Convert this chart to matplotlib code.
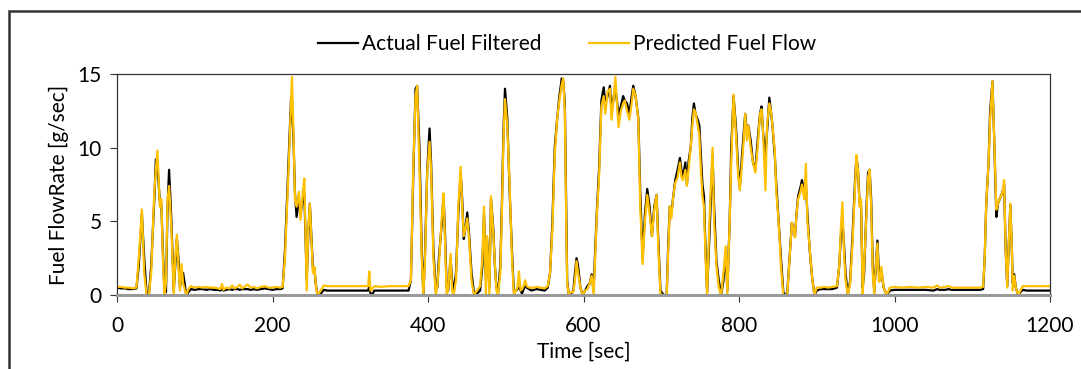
import matplotlib.pyplot as plt
from matplotlib.patches import Rectangle

# time [sec], actual fuel (filtered), predicted fuel flow [g/sec]
time = [0, 5, 10, 15, 20, 25, 28, 32, 35, 38, 41, 44, 48, 50, 52, 55, 57, 59, 61, 63,
        65, 67, 70, 73, 75, 77, 79, 81, 83, 85, 87, 89, 92, 95, 100, 105, 110, 115, 120, 125,
        130, 133, 135, 137, 140, 145, 148, 151, 155, 158, 161, 165, 168, 172, 176, 180, 185, 190, 195, 200,
        205, 210, 213, 216, 219, 221, 224, 225, 227, 229, 231, 234, 236, 239, 241, 244, 246, 248, 250, 252,
        254, 256, 258, 262, 266, 270, 280, 290, 300, 310, 320, 323, 324.5, 326, 328, 331, 340, 350, 360, 370,
        375, 378, 381, 384, 386, 389, 392, 394, 396, 399, 402, 404, 407, 410, 412, 414, 416, 418, 420, 422,
        424, 426, 429, 431, 433, 436, 439, 442, 444, 446, 448, 450.5, 453, 456, 459, 463, 467, 470, 472, 474.5,
        476, 479, 481, 484, 486, 488, 490, 493, 495, 497, 499, 502, 505, 508, 510.5, 513, 515, 517, 519, 521,
        523, 525, 527, 530, 533, 536, 540, 545, 550, 554, 557, 560, 563, 566, 569, 572, 574, 576, 578, 579,
        581, 584, 587, 589, 591, 593, 596, 599, 602, 605, 608, 610.5, 613, 615, 617, 620, 623, 626, 628, 631,
        634, 636, 639, 641, 643, 645, 648, 651, 653, 656, 659, 662, 664, 667, 670.5, 673, 676, 679, 682, 685,
        688, 691, 694, 696, 699, 703, 707, 709, 711, 713, 715, 718, 721, 724, 726, 728, 731, 733, 735, 738,
        740, 742, 744, 747, 749, 751, 753, 755, 757, 759, 762, 766, 768, 771, 774, 777, 780, 783, 785, 788,
        790, 793, 796, 799, 801, 804, 806, 808, 810, 812, 815, 818, 821, 824, 827, 829, 831, 834, 836, 839,
        841, 843, 846, 848, 851, 854, 857, 860, 862, 865, 868, 870, 872, 874, 876, 879, 881, 884, 886, 888,
        891, 894, 897, 900, 905, 910, 915, 920, 926, 929, 931, 933, 935, 937, 940, 943, 946, 949, 951, 953,
        955, 957, 959, 961, 964, 966, 968, 970, 972, 974, 976, 978, 980, 981.5, 983, 986, 990, 994, 1000, 1010,
        1020, 1030, 1040, 1050, 1055, 1058, 1065, 1070, 1073, 1080, 1090, 1100, 1110, 1114, 1116, 1118, 1121, 1123, 1126, 1128,
        1131, 1133, 1136, 1139, 1141, 1143, 1145, 1147, 1149, 1151, 1152, 1154, 1156, 1159, 1162, 1165, 1170, 1180, 1190, 1200]

actual = [0.5, 0.45, 0.45, 0.4, 0.4, 0.45, 2.0, 5.5, 2.5, 0.2, 0.0, 2.0, 6.5, 9.2, 8.8, 6.4, 6.2, 3.0, 0.3, 0.2,
          6.0, 8.5, 5.0, 0.3, 2.0, 3.8, 2.5, 0.5, 1.5, 1.5, 0.8, 0.0, 0.2, 0.4, 0.35, 0.4, 0.4, 0.35, 0.4, 0.35,
          0.35, 0.3, 0.45, 0.3, 0.35, 0.4, 0.35, 0.4, 0.4, 0.35, 0.4, 0.4, 0.4, 0.35, 0.4, 0.35, 0.4, 0.45, 0.4, 0.35,
          0.4, 0.4, 0.45, 3.0, 7.0, 9.5, 13.5, 13.0, 10.5, 6.8, 5.3, 6.5, 5.5, 6.5, 6.8, 1.0, 4.0, 6.2, 4.0, 1.8,
          1.7, 0.6, 0.0, 0.1, 0.35, 0.3, 0.3, 0.3, 0.3, 0.3, 0.3, 0.3, 0.6, 0.1, 0.0, 0.3, 0.3, 0.3, 0.3, 0.3,
          0.3, 1.0, 8.0, 14.0, 14.2, 10.0, 3.0, 0.0, 2.5, 8.5, 11.3, 9.0, 3.0, 0.3, 0.5, 2.5, 3.8, 5.0, 6.8, 4.0,
          0.5, 0.3, 2.5, 1.0, 0.2, 1.5, 5.5, 8.3, 6.5, 3.8, 4.5, 5.6, 4.0, 1.5, 0.2, 0.1, 0.3, 2.0, 5.5, 1.0,
          3.8, 0.5, 6.5, 4.5, 2.0, 0.5, 0.1, 2.0, 6.0, 11.0, 14.0, 12.0, 7.0, 3.0, 0.2, 0.3, 0.4, 0.5, 0.3, 0.1,
          0.4, 0.6, 0.5, 0.4, 0.3, 0.35, 0.4, 0.35, 0.3, 0.5, 1.5, 5.0, 10.0, 11.9, 13.5, 14.7, 14.5, 13.0, 5.0, 1.0,
          0.0, 0.1, 0.3, 1.5, 2.5, 2.0, 0.5, 0.0, 0.3, 0.6, 0.8, 1.4, 0.3, 3.0, 5.5, 8.5, 13.2, 14.1, 13.0, 13.5,
          14.2, 12.5, 13.5, 14.0, 13.2, 12.2, 12.8, 13.5, 13.2, 13.0, 12.3, 13.5, 14.2, 13.5, 12.0, 7.0, 2.5, 5.5, 7.2, 6.0,
          4.0, 6.0, 6.8, 4.0, 0.3, 0.0, 0.0, 3.5, 6.0, 5.5, 6.5, 7.8, 8.5, 9.3, 8.5, 8.0, 9.0, 7.5, 9.0, 10.1,
          12.0, 13.0, 12.3, 11.9, 11.5, 9.5, 7.5, 6.7, 3.0, 0.2, 4.0, 9.5, 6.0, 2.3, 1.0, 0.0, 1.0, 3.0, 0.3, 5.0,
          10.0, 13.5, 11.5, 8.5, 7.3, 9.5, 11.0, 12.3, 11.0, 11.5, 10.5, 9.0, 8.5, 10.5, 12.3, 12.8, 11.0, 9.5, 11.0, 13.4,
          12.5, 11.5, 9.5, 7.5, 5.0, 2.5, 0.2, 0.0, 0.1, 2.5, 4.9, 4.5, 4.0, 5.5, 6.7, 7.3, 7.8, 7.0, 7.5, 5.5,
          3.0, 1.2, 0.0, 0.3, 0.4, 0.4, 0.4, 0.4, 0.5, 2.0, 4.0, 5.0, 3.5, 1.5, 0.0, 1.0, 4.0, 7.5, 9.4, 8.5,
          6.3, 6.0, 0.5, 1.5, 6.0, 8.3, 8.5, 6.5, 2.0, 0.2, 2.0, 3.7, 1.5, 1.0, 1.7, 0.5, 0.0, 0.3, 0.35, 0.35,
          0.35, 0.35, 0.35, 0.3, 0.4, 0.35, 0.35, 0.4, 0.35, 0.35, 0.35, 0.35, 0.35, 0.4, 2.5, 6.2, 9.0, 12.5, 14.5, 11.0,
          5.3, 6.2, 6.6, 7.0, 7.5, 3.0, 0.6, 3.5, 6.1, 3.0, 0.8, 1.4, 0.5, 0.0, 0.2, 0.35, 0.3, 0.3, 0.3, 0.3]

predicted = [0.55, 0.55, 0.5, 0.5, 0.45, 0.5, 2.5, 5.8, 1.5, 0.0, 0.0, 1.5, 7.0, 8.5, 9.8, 6.0, 6.5, 2.5, 0.0, 0.8,
             6.5, 7.4, 4.5, 0.0, 2.5, 4.1, 2.0, 0.3, 2.1, 0.8, 0.4, 0.0, 0.4, 0.6, 0.5, 0.55, 0.5, 0.55, 0.5, 0.5,
             0.45, 0.4, 0.75, 0.35, 0.5, 0.45, 0.65, 0.45, 0.55, 0.7, 0.45, 0.6, 0.7, 0.5, 0.55, 0.45, 0.55, 0.6, 0.5, 0.5,
             0.55, 0.5, 0.55, 2.5, 6.5, 9.0, 13.5, 14.8, 11.0, 6.4, 6.0, 7.0, 5.1, 7.0, 7.9, 0.3, 4.5, 6.2, 3.8, 1.5,
             1.9, 0.5, 0.0, 0.3, 0.65, 0.6, 0.6, 0.6, 0.6, 0.6, 0.6, 0.6, 1.6, 0.3, 0.4, 0.6, 0.55, 0.6, 0.6, 0.6,
             0.6, 1.0, 8.5, 13.5, 14.2, 8.7, 2.5, 0.0, 2.0, 8.4, 10.4, 8.5, 2.5, 0.0, 0.6, 2.0, 3.7, 5.5, 6.9, 3.5,
             0.0, 0.4, 2.8, 0.3, 0.0, 1.0, 6.0, 8.7, 6.0, 4.0, 4.5, 5.2, 3.7, 1.0, 0.0, 0.3, 0.6, 2.5, 6.0, 0.0,
             4.0, 0.0, 6.7, 4.2, 2.1, 0.3, 0.0, 1.5, 5.5, 10.5, 13.3, 11.5, 7.4, 2.5, 0.0, 0.3, 0.5, 1.6, 0.3, 0.4,
             0.6, 1.0, 0.6, 0.5, 0.5, 0.5, 0.55, 0.5, 0.45, 0.6, 1.5, 4.5, 9.5, 11.9, 13.2, 14.3, 14.7, 12.5, 4.0, 0.8,
             0.0, 0.2, 0.2, 1.0, 2.3, 1.5, 0.5, 0.0, 0.3, 0.4, 0.8, 1.3, 0.0, 2.5, 5.3, 8.0, 12.8, 13.5, 12.3, 13.8,
             14.0, 11.9, 13.5, 14.8, 13.0, 11.4, 12.5, 13.0, 13.2, 12.5, 11.9, 13.0, 14.0, 13.5, 11.9, 6.0, 2.1, 5.0, 6.8, 5.5,
             4.0, 5.8, 6.8, 3.5, 0.0, 0.0, 0.0, 3.0, 6.0, 5.2, 6.5, 7.6, 8.0, 9.0, 8.0, 7.8, 8.5, 7.4, 8.5, 10.1,
             11.5, 12.6, 12.4, 11.5, 10.8, 8.5, 6.7, 6.0, 2.5, 0.0, 5.0, 10.0, 5.0, 2.0, 0.5, 0.0, 1.5, 3.3, 0.0, 5.0,
             9.0, 13.6, 11.0, 8.0, 7.1, 9.0, 10.5, 12.3, 10.5, 11.5, 10.0, 9.0, 8.3, 10.0, 12.3, 12.6, 11.0, 7.1, 11.5, 13.0,
             12.5, 11.5, 9.8, 7.0, 4.9, 2.0, 0.0, 0.0, 0.0, 2.5, 4.9, 4.5, 3.9, 5.5, 6.5, 7.0, 7.5, 6.5, 8.9, 5.0,
             3.1, 1.2, 0.0, 0.5, 0.5, 0.55, 0.5, 0.55, 0.6, 2.0, 4.5, 6.3, 3.0, 1.0, 0.0, 0.8, 3.5, 7.0, 9.5, 8.5,
             6.0, 6.5, 0.0, 2.0, 5.5, 8.0, 8.5, 6.0, 1.5, 0.0, 2.0, 3.5, 0.9, 1.0, 1.9, 0.5, 0.0, 0.5, 0.55, 0.5,
             0.55, 0.5, 0.55, 0.5, 0.65, 0.5, 0.55, 0.6, 0.5, 0.5, 0.5, 0.5, 0.5, 0.55, 2.5, 6.2, 9.0, 12.0, 14.5, 11.0,
             5.8, 6.2, 6.6, 7.0, 7.8, 3.0, 0.5, 3.5, 6.2, 3.0, 0.3, 1.3, 0.5, 0.0, 0.3, 0.6, 0.6, 0.6, 0.6, 0.6]

plt.rcParams['font.family'] = ['Lato', 'DejaVu Sans']

fig = plt.figure(figsize=(10.81, 3.69), dpi=100)
ax = fig.add_axes([117 / 1081, 1 - 295 / 369, (1050 - 117) / 1081, (295 - 74) / 369])

ax.plot(time, actual, color='black', lw=1.6, label='Actual Fuel Filtered')
ax.plot(time, predicted, color='#FFC000', lw=1.6, label='Predicted Fuel Flow')

ax.set_xlim(0, 1200)
ax.set_ylim(0, 15)
ax.set_xticks(range(0, 1201, 200))
ax.set_yticks([0, 5, 10, 15])
ax.tick_params(labelsize=15, length=5, width=0.8, color='#333333')
ax.tick_params(axis='x', pad=10)
ax.tick_params(axis='y', pad=6)
ax.set_xlabel('Time [sec]', fontsize=15, labelpad=4)
ax.set_ylabel('Fuel FlowRate [g/sec]', fontsize=15, labelpad=6)

for s in ['top', 'left', 'right']:
    ax.spines[s].set_color('#333333')
    ax.spines[s].set_linewidth(0.9)
ax.spines['bottom'].set_color('#999999')
ax.spines['bottom'].set_linewidth(2.2)

fig.legend(loc='center', bbox_to_anchor=(567 / 1081, 1 - 44 / 369), ncol=2, frameon=False,
           fontsize=15, handlelength=1.9, handletextpad=0.2, columnspacing=2.3)

# outer chart frame
fig.patches.append(Rectangle((9 / 1081, -0.2), 1.2, 1 - 11 / 369 + 0.2, transform=fig.transFigure,
                             fill=False, edgecolor='#333333', lw=1.8))

fig.savefig('out.png', dpi=100)
